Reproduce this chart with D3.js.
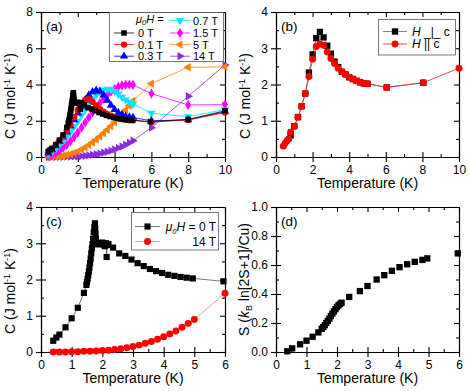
<!DOCTYPE html>
<html><head><meta charset="utf-8">
<script src="https://cdn.jsdelivr.net/npm/d3@7"></script>
<style>
body{margin:0;background:#fff;}
svg{display:block;font-family:"Liberation Sans",Arial,sans-serif;}
.axis text{font-size:12px;fill:#000;font-family:"Liberation Sans",Arial,sans-serif;}
.axis path,.axis line{stroke:#000;stroke-width:1.1;}
</style></head>
<body>
<svg id="c" width="469" height="391"></svg>
<script>
// ---------- DATA ----------
// Panel (a): temperature grid for field series
const tA = [0.4,0.6,0.8,1.0,1.2,1.4,1.6,1.8,2.0,2.2,2.4,2.6,2.8,3.0,3.2,3.4,3.6,3.8,4.0,4.2,4.4,4.6,4.8,5.0,6,8,10];
const c01T = [0.30,0.45,0.68,0.90,1.15,1.45,1.80,2.20,2.60,2.95,3.15,3.20,3.05,2.85,2.65,2.50,2.38,2.28,2.20,2.14,2.09,2.05,2.03,2.02,1.92,2.05,2.45];
const c03T = [0.22,0.40,0.62,0.85,1.10,1.38,1.70,2.05,2.42,2.80,3.15,3.42,3.60,3.68,3.62,3.42,3.12,2.85,2.62,2.45,2.33,2.25,2.20,2.17,2.00,2.05,2.50];
const c07T = [0.15,0.28,0.45,0.65,0.88,1.12,1.38,1.68,1.98,2.30,2.62,2.92,3.20,3.42,3.60,3.70,3.75,3.72,3.62,3.48,3.30,3.15,3.02,2.92,2.42,2.22,2.62];
const c15T = [0.05,0.12,0.22,0.35,0.50,0.68,0.88,1.10,1.35,1.62,1.90,2.18,2.46,2.72,2.98,3.22,3.42,3.60,3.75,3.87,3.95,3.99,4.00,3.98,3.50,2.87,2.89];
const c5T  = [0.00,0.01,0.02,0.04,0.07,0.11,0.16,0.23,0.31,0.41,0.53,0.66,0.80,0.96,1.13,1.31,1.50,1.70,1.92,2.14,2.37,2.60,2.84,3.10,4.05,4.95,4.97];
const c14T = [0.00,0.00,0.00,0.01,0.01,0.02,0.02,0.03,0.04,0.05,0.07,0.09,0.12,0.15,0.19,0.24,0.29,0.35,0.42,0.50,0.58,0.68,0.79,0.90,1.62,3.35,5.08];
// Zero field (panels a and c)
const t0T = [0.40,0.50,0.60,0.80,1.00,1.20,1.40,1.48,1.50,1.52,1.54,1.56,1.58,1.60,1.62,1.64,1.66,1.68,1.70,1.72,1.74,1.76,1.77,1.78,1.79,1.80,1.84,1.88,1.92,1.96,2.00,2.04,2.08,2.12,2.14,2.16,2.20,2.35,2.55,2.75,2.95,3.15,3.35,3.55,3.75,3.95,4.15,4.35,4.55,4.75,4.95,5.95,8.0,10.0];
const c0T = [0.31,0.40,0.48,0.68,0.93,1.22,1.63,1.85,1.93,2.02,2.12,2.22,2.33,2.45,2.58,2.72,2.86,2.98,3.12,3.30,3.45,3.55,3.40,3.25,3.12,3.02,2.97,2.98,3.00,2.98,3.02,2.96,2.92,3.00,2.62,2.95,2.98,2.88,2.72,2.65,2.55,2.45,2.37,2.29,2.23,2.18,2.13,2.10,2.07,2.05,2.03,1.95,2.07,2.55];
// Panel (b)
const tPerp = [0.8,1.0,1.2,1.4,1.6,1.8,2.0,2.2,2.4,2.6,2.8,3.0,3.2,3.4,3.6,3.8,4.0,4.2,4.4,4.6,4.8,5.0,6.05,8.05];
const cPerp = [0.60,0.85,1.10,1.40,1.75,2.33,2.83,3.28,3.45,3.30,3.07,2.85,2.63,2.48,2.35,2.28,2.20,2.15,2.10,2.06,2.03,2.02,1.92,2.05];
const tPar = [0.4,0.5,0.6,0.7,0.8,1.0,1.2,1.4,1.6,1.8,2.0,2.2,2.4,2.6,2.8,3.0,3.2,3.4,3.6,3.8,4.0,4.2,4.4,4.6,4.8,5.0,6.05,8.05,10.0];
const cPar = [0.30,0.38,0.45,0.50,0.68,0.85,1.10,1.40,1.75,2.22,2.70,3.05,3.12,3.08,2.90,2.72,2.58,2.45,2.35,2.28,2.20,2.15,2.10,2.06,2.03,2.02,1.92,2.05,2.45];
// Panel (d): entropy
const tS = [0.37,0.53,0.79,1.00,1.20,1.39,1.50,1.55,1.60,1.65,1.70,1.75,1.80,1.85,1.90,1.95,2.00,2.05,2.10,2.15,2.40,2.75,3.00,3.30,3.55,3.80,4.05,4.30,4.55,4.80,4.96,5.96];
const sS = [0.005,0.025,0.053,0.078,0.105,0.135,0.160,0.172,0.185,0.200,0.215,0.230,0.248,0.265,0.280,0.295,0.310,0.322,0.332,0.340,0.380,0.420,0.455,0.500,0.530,0.560,0.585,0.605,0.622,0.635,0.646,0.680];

// ---------- HELPERS ----------
const svg = d3.select("#c");
const colors = {k:"#000000", r:"#ff0000", b:"#0000ff", cy:"#00e8ff", m:"#ff00ff", o:"#ff8000", p:"#8a2be2"};

function symPath(kind, size){
  const map = {square:d3.symbolSquare, circle:d3.symbolCircle, tri:d3.symbolTriangle, diamond:d3.symbolDiamond};
  return d3.symbol().type(map[kind]).size(size)();
}
const rot = {up:0, down:180, left:-90, right:90};

function panel(o){
  const g = svg.append("g");
  const x = d3.scaleLinear().domain(o.xd).range([o.l, o.r]);
  const y = d3.scaleLinear().domain(o.yd).range([o.b, o.t]);
  const fmt = o.yfmt || d3.format("d");
  g.append("g").attr("class","axis").attr("transform",`translate(0,${o.b})`)
    .call(d3.axisBottom(x).tickValues(o.xMaj).tickSize(5).tickSizeOuter(0).tickPadding(3).tickFormat(d3.format("d")));
  g.append("g").attr("class","axis").attr("transform",`translate(0,${o.b})`)
    .call(d3.axisBottom(x).tickValues(o.xMaj).tickSize(-5).tickSizeOuter(0).tickFormat(""));
  g.append("g").attr("class","axis").attr("transform",`translate(0,${o.b})`)
    .call(d3.axisBottom(x).tickValues(o.xMin).tickSize(-3).tickSizeOuter(0).tickFormat(""));
  g.append("g").attr("class","axis").attr("transform",`translate(0,${o.t})`)
    .call(d3.axisTop(x).tickValues(o.xMaj).tickSize(-5).tickSizeOuter(0).tickFormat(""));
  g.append("g").attr("class","axis").attr("transform",`translate(0,${o.t})`)
    .call(d3.axisTop(x).tickValues(o.xMin).tickSize(-3).tickSizeOuter(0).tickFormat(""));
  g.append("g").attr("class","axis").attr("transform",`translate(${o.l},0)`)
    .call(d3.axisLeft(y).tickValues(o.yMaj).tickSize(5).tickSizeOuter(0).tickPadding(3).tickFormat(fmt));
  g.append("g").attr("class","axis").attr("transform",`translate(${o.l},0)`)
    .call(d3.axisLeft(y).tickValues(o.yMaj).tickSize(-5).tickSizeOuter(0).tickFormat(""));
  g.append("g").attr("class","axis").attr("transform",`translate(${o.l},0)`)
    .call(d3.axisLeft(y).tickValues(o.yMin).tickSize(-3).tickSizeOuter(0).tickFormat(""));
  g.append("g").attr("class","axis").attr("transform",`translate(${o.r},0)`)
    .call(d3.axisRight(y).tickValues(o.yMaj).tickSize(-5).tickSizeOuter(0).tickFormat(""));
  g.append("g").attr("class","axis").attr("transform",`translate(${o.r},0)`)
    .call(d3.axisRight(y).tickValues(o.yMin).tickSize(-3).tickSizeOuter(0).tickFormat(""));
  g.selectAll(".axis .domain").attr("stroke-width",1.2);
  g.append("text").attr("x",(o.l+o.r)/2).attr("y",o.b+31).attr("text-anchor","middle")
    .attr("font-size",14).text("Temperature (K)");
  g.append("text").attr("x",o.l+5).attr("y",o.t+19).attr("font-size",13.5).text(o.label);
  return {g,x,y};
}

function series(P, ts, cs, st){
  const pts = ts.map((t,i)=>[t,cs[i]]);
  P.g.append("path").datum(pts)
    .attr("fill","none").attr("stroke",st.line||st.color).attr("stroke-width",st.lw||0.8)
    .attr("d", d3.line().x(d=>P.x(d[0])).y(d=>P.y(d[1])));
  P.g.append("g").selectAll("path").data(pts).join("path")
    .attr("d", symPath(st.shape, st.size||36))
    .attr("transform", d=>`translate(${P.x(d[0])},${P.y(d[1])}) rotate(${st.rot||0})`)
    .attr("fill", st.color);
}

function cTitle(x, yc){
  const t = svg.append("text").attr("transform",`translate(${x},${yc}) rotate(-90)`)
    .attr("text-anchor","middle").attr("font-size",14);
  t.append("tspan").text("C (J mol");
  t.append("tspan").attr("font-size",9).attr("dy",-5).text("-1");
  t.append("tspan").attr("dy",5).text(" K");
  t.append("tspan").attr("font-size",9).attr("dy",-5).text("-1");
  t.append("tspan").attr("dy",5).text(")");
}

function legendItem(g, x1, x2, y, st, label, textX, anchor, fs){
  g.append("line").attr("x1",x1).attr("x2",x2).attr("y1",y).attr("y2",y)
    .attr("stroke",st.line||st.color).attr("stroke-width",0.8);
  g.append("path").attr("d",symPath(st.shape, st.size||36))
    .attr("transform",`translate(${(x1+x2)/2},${y}) rotate(${st.rot||0})`).attr("fill",st.color);
  if(label){
    const t = g.append("text").attr("x",textX).attr("y",y+4).attr("font-size",fs||11)
      .attr("text-anchor",anchor||"start");
    label(t);
  }
}
function muH(t, sub){
  t.append("tspan").attr("font-style","italic").text("μ");
  t.append("tspan").attr("font-style","italic").attr("font-size",7.5).attr("dy",sub||3).text("0");
  t.append("tspan").attr("font-style","italic").attr("dy",-(sub||3)).text("H");
}

// ---------- PANEL (a) ----------
const st0  = {color:colors.k, shape:"square", size:30};
const st01 = {color:colors.r, shape:"circle", size:32};
const st03 = {color:colors.b, shape:"tri", size:30, rot:rot.up};
const st07 = {color:colors.cy, shape:"tri", size:30, rot:rot.down};
const st15 = {color:colors.m, shape:"diamond", size:30};
const st5  = {color:colors.o, shape:"tri", size:30, rot:rot.left};
const st14 = {color:colors.p, shape:"tri", size:30, rot:rot.right};

const A = panel({l:41,r:225,t:12,b:157,xd:[0,10],yd:[0,8],
  xMaj:[0,2,4,6,8,10],xMin:[1,3,5,7,9],yMaj:[0,2,4,6,8],yMin:[1,3,5,7],label:"(a)"});
series(A,tA,c14T,st14);
series(A,tA,c5T,st5);
series(A,tA,c15T,st15);
series(A,tA,c07T,st07);
series(A,tA,c03T,st03);
series(A,tA,c01T,st01);
series(A,t0T,c0T,st0);
cTitle(15,96);
const LA = svg.append("g");
LA.append("rect").attr("x",109.5).attr("y",12.5).attr("width",114).attr("height",49)
  .attr("fill","#fff").attr("stroke","#555").attr("stroke-width",0.8);
{ const t=LA.append("text").attr("x",136).attr("y",23).attr("font-size",11); muH(t,2); t.append("tspan").text(" ="); }
legendItem(LA,114,134,33,st0,t=>t.text("0 T"),138);
legendItem(LA,114,134,44.6,st01,t=>t.text("0.1 T"),138);
legendItem(LA,114,134,56.2,st03,t=>t.text("0.3 T"),138);
legendItem(LA,170,190,20.5,st07,t=>t.text("0.7 T"),193);
legendItem(LA,170,190,33,st15,t=>t.text("1.5 T"),193);
legendItem(LA,170,190,44.6,st5,t=>t.text("5 T"),193);
legendItem(LA,170,190,56.2,st14,t=>t.text("14 T"),193);

// ---------- PANEL (b) ----------
const B = panel({l:276,r:459,t:12,b:157,xd:[0,10],yd:[0,4],
  xMaj:[0,2,4,6,8,10],xMin:[1,3,5,7,9],yMaj:[0,1,2,3,4],yMin:[0.5,1.5,2.5,3.5],label:"(b)"});
const stPerp = {color:colors.k, shape:"square", size:40, line:"#666"};
const stPar = {color:colors.r, shape:"circle", size:38, line:"#d22"};
series(B,tPerp,cPerp,stPerp);
series(B,tPar,cPar,stPar);
cTitle(250,96);
const LB = svg.append("g");
LB.append("rect").attr("x",378.5).attr("y",19.5).attr("width",77).attr("height",35.5)
  .attr("fill","#fff").attr("stroke","#555").attr("stroke-width",0.8);
legendItem(LB,383,407,31.5,stPerp,t=>{t.append("tspan").attr("font-style","italic").text("H"); t.append("tspan").text(" _|_ c");},412,"start",12);
legendItem(LB,383,407,44,stPar,t=>{t.append("tspan").attr("font-style","italic").text("H"); t.append("tspan").text(" || c");},412,"start",12);

// ---------- PANEL (c) ----------
const C = panel({l:41,r:225,t:207,b:352,xd:[0,6],yd:[0,4],
  xMaj:[0,1,2,3,4,5,6],xMin:[0.5,1.5,2.5,3.5,4.5,5.5],yMaj:[0,1,2,3,4],yMin:[0.5,1.5,2.5,3.5],label:"(c)"});
const stC0 = {color:colors.k, shape:"square", size:38, line:"#555"};
const stC14 = {color:colors.r, shape:"circle", size:38, line:"#f08080"};
series(C, t0T.filter(t=>t<=6), c0T.filter((v,i)=>t0T[i]<=6), stC0);
series(C, tA.filter(t=>t<=6), c14T.filter((v,i)=>tA[i]<=6), stC14);
cTitle(15,291);
const LC = svg.append("g");
LC.append("rect").attr("x",131.5).attr("y",212.5).attr("width",87).attr("height",37.5)
  .attr("fill","#fff").attr("stroke","#555").attr("stroke-width",0.8);
legendItem(LC,135,160,226.5,stC0,t=>{muH(t); t.append("tspan").text(" = 0 T");},216,"end",12);
legendItem(LC,135,160,241.5,stC14,t=>t.text("14 T"),216,"end",12);

// ---------- PANEL (d) ----------
const D = panel({l:276,r:459,t:207,b:352,xd:[0,6],yd:[0,1],
  xMaj:[0,1,2,3,4,5,6],xMin:[0.5,1.5,2.5,3.5,4.5,5.5],yMaj:[0,0.2,0.4,0.6,0.8,1.0],yMin:[0.1,0.3,0.5,0.7,0.9],
  yfmt:d3.format(".1f"),label:"(d)"});
const stS = {color:colors.k, shape:"square", size:40, line:"none"};
series(D,tS,sS,stS);
{
  const t = svg.append("text").attr("transform",`translate(249,279.5) rotate(-90)`)
    .attr("text-anchor","middle").attr("font-size",14);
  t.append("tspan").text("S (");
  t.append("tspan").attr("font-style","italic").text("k");
  t.append("tspan").attr("font-size",9).attr("dy",3).text("B");
  t.append("tspan").attr("dy",-3).text(" ln[2S+1]/Cu)");
}
</script>
</body></html>
